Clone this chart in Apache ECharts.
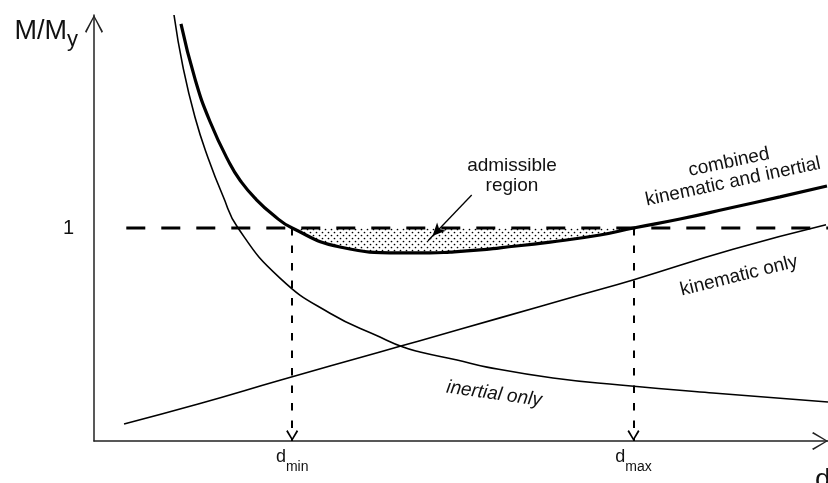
<!DOCTYPE html>
<html>
<head>
<meta charset="utf-8">
<script src="https://cdn.jsdelivr.net/npm/echarts@6/dist/echarts.min.js"></script>
<style>
html,body{margin:0;padding:0;background:#ffffff;}
#c{width:828px;height:483px;}
</style>
</head>
<body>
<div id="c"></div>
<script>
// ---------------- data ----------------
const inertialX  = [1.09, 1.21, 1.376, 1.553, 1.757, 1.962, 2.534, 3.215, 3.896, 4.21, 4.441, 4.946, 5.354, 6.253, 7.166, 8.433, 10.0];
const inertialY  = [2.00, 1.76, 1.52, 1.33, 1.15, 1.00, 0.765, 0.60, 0.488, 0.441, 0.418, 0.380, 0.347, 0.296, 0.263, 0.225, 0.183];

const kinematicX = [0.409, 1.444, 2.534, 3.896, 4.441, 5.531, 6.621, 7.343, 8.706, 9.973];
const kinematicY = [0.080, 0.176, 0.285, 0.418, 0.471, 0.578, 0.685, 0.756, 0.900, 1.015];

const combinedX  = [1.185, 1.376, 1.580, 1.853, 2.003, 2.193, 2.439, 2.70, 3.351, 4.169, 4.578, 4.850, 5.259, 5.531, 6.213, 6.894, 7.35, 7.984, 8.665, 9.346, 9.986];
const combinedY  = [1.958, 1.700, 1.500, 1.300, 1.218, 1.140, 1.062, 1.00, 0.911, 0.883, 0.883, 0.887, 0.897, 0.907, 0.934, 0.967, 1.00, 1.042, 1.094, 1.146, 1.197];

const dMin = 2.70;
const dMax = 7.35;
const refLevel = 1;
const refLineX = [0.44, 10];

const xTickValues = [dMin, dMax];
const xTickLabels = ['{d|d}{s|min}', '{d|d}{s|max}'];
const yTickValues = [1];
const yTickLabels = ['1'];

const pointerFrom = [5.146, 1.155];
const pointerTo   = [4.55, 0.94];

const annoTexts = ['admissible\nregion', 'combined\nkinematic and inertial', 'kinematic only', 'inertial only'];
const annoX     = [5.695, 8.678, 8.787, 5.45];
const annoY     = [1.244, 1.263, 0.775, 0.221];

// ---------------- styling helpers ----------------
const FONT = '"Liberation Sans", Arial, Helvetica, sans-serif';
const annoAngle  = [0, 12, 14, -8];
const annoItalic = [false, false, false, true];
const AXIS_ARROW_Y = 'path://M50,0 L100,92 L93,100 L50,14 L7,100 L0,92 Z';
const AXIS_ARROW_X = 'path://M56,0 L112,92 L104,100 L56,14 L8,100 L0,92 Z';
const DROP_ARROW   = 'path://M50,0 L100,86 L88,97 L50,26 L12,97 L0,86 Z';
const SMOOTH = 0.5;

const pts = (xs, ys) => xs.map((x, i) => [x, ys[i]]);
const combinedPts = pts(combinedX, combinedY);
const admissiblePts = combinedPts.filter(p => p[0] >= dMin - 1e-9 && p[0] <= dMax + 1e-9);

// dotted pattern
const pat = document.createElement('canvas');
pat.width = 6; pat.height = 6;
const g = pat.getContext('2d');
g.fillStyle = '#000';
g.beginPath(); g.arc(1.5, 1.5, 0.85, 0, Math.PI * 2); g.fill();
g.beginPath(); g.arc(4.5, 4.5, 0.85, 0, Math.PI * 2); g.fill();

const chart = echarts.init(document.getElementById('c'), null, {renderer: 'canvas'});

const option = {
  animation: false,
  backgroundColor: '#ffffff',
  grid: {left: 94, right: 0, top: 15, bottom: 42, containLabel: false, outerBoundsMode: 'none'},
  xAxis: {
    type: 'value', min: 0, max: 10,
    axisLine: {show: true, onZero: false, symbol: ['none', AXIS_ARROW_X], symbolSize: [18, 16], symbolOffset: [0, -8],
      lineStyle: {color: '#222', width: 1.5}},
    axisTick: {show: false},
    splitLine: {show: false},
    axisLabel: {
      customValues: xTickValues,
      formatter: v => { const i = xTickValues.findIndex(t => Math.abs(t - v) < 1e-6); return i >= 0 ? xTickLabels[i] : ''; },
      margin: 7, color: '#111', fontFamily: FONT,
      rich: {
        d: {fontSize: 18, lineHeight: 20, verticalAlign: 'top', fontFamily: FONT, color: '#111'},
        s: {fontSize: 14, lineHeight: 14, verticalAlign: 'top', padding: [12, 0, 0, 0], fontFamily: FONT, color: '#111'}
      }
    },
    name: 'd', nameLocation: 'end', nameGap: -13, nameMoveOverlap: false,
    nameTextStyle: {fontSize: 28, lineHeight: 28, fontFamily: FONT, color: '#111', align: 'left', verticalAlign: 'top', padding: [25, 0, 0, 0]}
  },
  yAxis: {
    type: 'value', min: 0, max: 2, interval: 1,
    axisLine: {show: true, onZero: false, symbol: ['none', AXIS_ARROW_Y], symbolSize: [18, 18], symbolOffset: [0, -9],
      lineStyle: {color: '#222', width: 1.5}},
    axisTick: {show: false},
    splitLine: {show: false},
    axisLabel: {
      customValues: yTickValues,
      formatter: v => { const i = yTickValues.findIndex(t => Math.abs(t - v) < 1e-6); return i >= 0 ? yTickLabels[i] : ''; },
      margin: 20, fontSize: 20, color: '#111', fontFamily: FONT
    },
    name: '{m|M/M}{s|y}', nameLocation: 'end', nameGap: 0, nameMoveOverlap: false,
    nameTextStyle: {
      align: 'right', verticalAlign: 'top', padding: [3, 16, 0, 0],
      rich: {
        m: {fontSize: 27, lineHeight: 30, verticalAlign: 'top', fontFamily: FONT, color: '#111'},
        s: {fontSize: 22, lineHeight: 22, verticalAlign: 'top', padding: [11, 0, 0, 0], fontFamily: FONT, color: '#111'}
      }
    }
  },
  series: [
    {
      name: 'admissible region', type: 'line', data: admissiblePts,
      smooth: SMOOTH, showSymbol: false, clip: false, z: 1,
      lineStyle: {width: 0, opacity: 0},
      areaStyle: {color: {image: pat, repeat: 'repeat'}, origin: refLevel, opacity: 1}
    },
    {
      name: 'M/My = 1', type: 'line', data: refLineX.map(x => [x, refLevel]),
      showSymbol: false, clip: false, z: 3,
      lineStyle: {color: '#000', width: 3, type: [19, 16]},
      markLine: {
        silent: true, animation: false,
        symbol: ['none', DROP_ARROW], symbolSize: [12, 11], symbolOffset: [[0, 0], [0, 5.5]],
        label: {show: false},
        lineStyle: {color: '#000', width: 2, type: [7.5, 10]},
        data: [
          [{coord: [dMin, refLevel]}, {coord: [dMin, 0]}],
          [{coord: [dMax, refLevel]}, {coord: [dMax, 0]}]
        ]
      }
    },
    {
      name: 'inertial only', type: 'line', data: pts(inertialX, inertialY),
      smooth: SMOOTH, showSymbol: false, clip: false, z: 4,
      lineStyle: {color: '#000', width: 1.6}
    },
    {
      name: 'kinematic only', type: 'line', data: pts(kinematicX, kinematicY),
      smooth: SMOOTH, showSymbol: false, clip: false, z: 4,
      lineStyle: {color: '#000', width: 1.6}
    },
    {
      name: 'combined kinematic and inertial', type: 'line', data: combinedPts,
      smooth: SMOOTH, showSymbol: false, clip: false, z: 5,
      lineStyle: {color: '#000', width: 3.2},
      markLine: {
        silent: true, animation: false,
        symbol: ['none', 'arrow'], symbolSize: [9, 13], symbolOffset: [[0, 0], [0, 6.5]],
        label: {show: false},
        lineStyle: {color: '#000', width: 1.3, type: 'solid'},
        data: [[{coord: pointerFrom}, {coord: pointerTo}]]
      }
    }
  ]
};
chart.setOption(option);

const graphics = annoTexts.map((t, i) => {
  const p = chart.convertToPixel({gridIndex: 0}, [annoX[i], annoY[i]]);
  return {
    type: 'text', x: p[0], y: p[1], rotation: annoAngle[i] * Math.PI / 180, z: 10,
    style: {
      text: t,
      font: (annoItalic[i] ? 'italic ' : '') + '19px ' + FONT,
      fill: '#111', align: 'center', verticalAlign: 'middle',
      textAlign: 'center', textVerticalAlign: 'middle', lineHeight: 20
    }
  };
});
chart.setOption({graphic: graphics});
</script>
</body>
</html>
